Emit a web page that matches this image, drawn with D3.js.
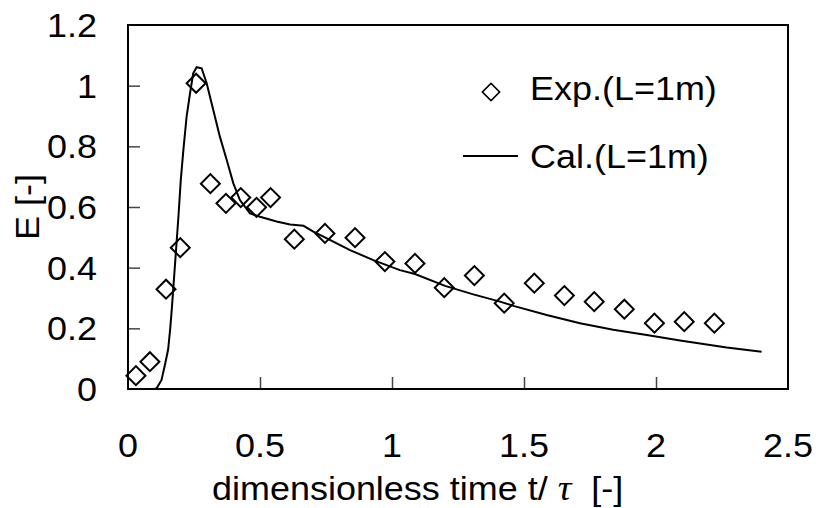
<!DOCTYPE html>
<html>
<head>
<meta charset="utf-8">
<script src="https://cdn.jsdelivr.net/npm/d3@7/dist/d3.min.js"></script>
<style>
  html, body { margin: 0; padding: 0; background: #fff; }
  svg { display: block; font-family: 'Liberation Sans', Arial, sans-serif; }
</style>
</head>
<body>
<div id="chart"></div>
<script>
// experimental points (diamonds)
const expT = [0.030, 0.083, 0.144, 0.198, 0.258, 0.312, 0.371, 0.427, 0.487, 0.540, 0.630, 0.746, 0.860,
  0.973, 1.087, 1.198, 1.312, 1.425, 1.539, 1.653, 1.766, 1.880, 1.994, 2.107, 2.221];
const expE = [0.044, 0.090, 0.329, 0.466, 1.008, 0.677, 0.612, 0.631, 0.599, 0.631, 0.494, 0.513, 0.499,
  0.420, 0.414, 0.334, 0.374, 0.283, 0.349, 0.308, 0.288, 0.263, 0.217, 0.222, 0.217];

// calculated curve
const calT = [0.100, 0.109, 0.127, 0.140, 0.152, 0.160, 0.166, 0.178, 0.191, 0.200, 0.210, 0.222, 0.235,
  0.247, 0.260, 0.279, 0.298, 0.323, 0.348, 0.374, 0.399, 0.424, 0.462, 0.500, 0.563, 0.614, 0.665,
  0.702, 0.746, 0.841, 0.929, 1.030, 1.087, 1.201, 1.308, 1.409, 1.460, 1.586, 1.712, 1.838, 1.965,
  2.091, 2.268, 2.400];
const calE = [0, 0.003, 0.030, 0.080, 0.130, 0.200, 0.265, 0.410, 0.568, 0.690, 0.790, 0.898, 0.975,
  1.041, 1.061, 1.057, 1.008, 0.920, 0.832, 0.755, 0.678, 0.623, 0.579, 0.568, 0.552, 0.542, 0.538,
  0.519, 0.500, 0.458, 0.425, 0.392, 0.379, 0.340, 0.312, 0.288, 0.274, 0.244, 0.217, 0.195, 0.178,
  0.160, 0.137, 0.123];

const xTicks = [0, 0.5, 1, 1.5, 2, 2.5];
const xTickLabels = ['0', '0.5', '1', '1.5', '2', '2.5'];
const yTicks = [0, 0.2, 0.4, 0.6, 0.8, 1, 1.2];
const yTickLabels = ['0', '0.2', '0.4', '0.6', '0.8', '1', '1.2'];

const legendLabels = ['Exp.(L=1m)', 'Cal.(L=1m)'];

const width = 819;
const height = 508;
const plotLeft = 128, plotRight = 788, plotTop = 25, plotBottom = 389;
const fontSize = 33;
const stretch = 1.09;

const x = d3.scaleLinear().domain([0, 2.5]).range([plotLeft, plotRight]);
const y = d3.scaleLinear().domain([0, 1.2]).range([plotBottom, plotTop]);

const svg = d3.select('#chart').append('svg')
  .attr('width', width)
  .attr('height', height);

const label = (sel, px, py, str, anchor) =>
  sel.append('text')
    .attr('transform', `translate(${px},${py}) scale(${stretch},1)`)
    .attr('text-anchor', anchor)
    .attr('font-size', fontSize)
    .attr('fill', '#000')
    .text(str);

// ticks (inside)
const yAxis = svg.append('g')
  .attr('transform', `translate(${plotLeft},0)`)
  .call(d3.axisLeft(y).tickValues(yTicks.slice(1, -1)).tickSize(-12).tickFormat(''));
const xAxis = svg.append('g')
  .attr('transform', `translate(0,${plotBottom})`)
  .call(d3.axisBottom(x).tickValues(xTicks.slice(1, -1)).tickSize(-12).tickFormat(''));
[xAxis, yAxis].forEach(g => {
  g.select('.domain').remove();
  g.selectAll('.tick line').attr('stroke', '#444').attr('stroke-width', 1.5);
});

// frame
svg.append('rect')
  .attr('x', plotLeft).attr('y', plotTop)
  .attr('width', plotRight - plotLeft).attr('height', plotBottom - plotTop)
  .attr('fill', 'none').attr('stroke', '#000').attr('stroke-width', 2);

// tick labels
const labels = svg.append('g');
yTicks.forEach((v, i) => label(labels, 97, y(v) + 12, yTickLabels[i], 'end'));
xTicks.forEach((v, i) => label(labels, x(v), 457, xTickLabels[i], 'middle'));

// axis titles
const xt = svg.append('text')
  .attr('transform', `translate(212,500) scale(${stretch},1)`)
  .attr('font-size', fontSize)
  .attr('fill', '#000');
xt.append('tspan').text('dimensionless time t/ ');
xt.append('tspan').attr('font-family', "'Liberation Serif', 'Times New Roman', serif")
  .attr('font-style', 'italic').attr('font-size', fontSize + 2).text('τ');
xt.append('tspan').text('\u00a0\u00a0[-]');

svg.append('text')
  .attr('transform', `translate(39,207) rotate(-90) scale(${stretch},1)`)
  .attr('text-anchor', 'middle')
  .attr('font-size', fontSize)
  .attr('fill', '#000')
  .text('E [-]');

// calculated line
const line = d3.line()
  .x((d, i) => x(calT[i]))
  .y(d => y(d));
svg.append('path')
  .datum(calE)
  .attr('d', line)
  .attr('fill', 'none')
  .attr('stroke', '#000')
  .attr('stroke-width', 2);

// experimental diamonds
const diamond = d3.symbol().type(d3.symbolSquare).size(180);
svg.append('g')
  .selectAll('path')
  .data(expE)
  .join('path')
  .attr('d', diamond)
  .attr('transform', (d, i) => `translate(${x(expT[i])},${y(d)}) rotate(45)`)
  .attr('fill', 'none')
  .attr('stroke', '#000')
  .attr('stroke-width', 2);

// legend
const legend = svg.append('g');
legend.append('path')
  .attr('d', d3.symbol().type(d3.symbolSquare).size(150)())
  .attr('transform', 'translate(491,92) rotate(45)')
  .attr('fill', 'none')
  .attr('stroke', '#000')
  .attr('stroke-width', 1.6);
legend.append('line')
  .attr('x1', 463).attr('x2', 518)
  .attr('y1', 156).attr('y2', 156)
  .attr('stroke', '#000')
  .attr('stroke-width', 2);
label(legend, 530, 100, legendLabels[0], 'start');
label(legend, 530, 168, legendLabels[1], 'start');
</script>
</body>
</html>
